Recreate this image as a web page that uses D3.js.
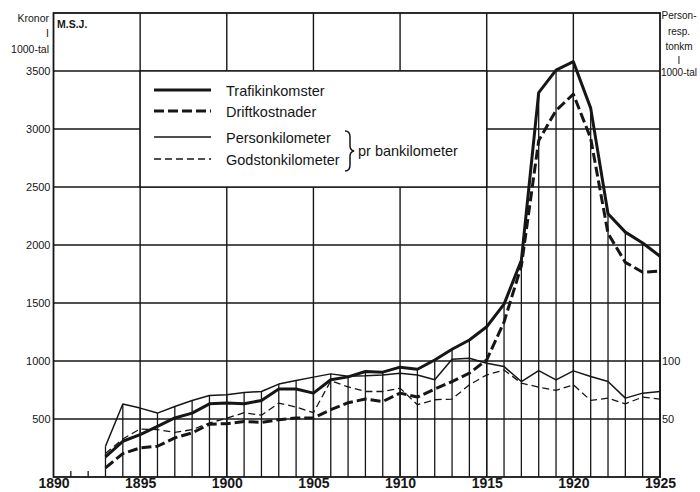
<!DOCTYPE html>
<meta charset="utf-8">
<script src="https://d3js.org/d3.v7.min.js"></script>
<style>
  body { margin: 0; background: #fff; }
  text { font-family: "Liberation Sans", Arial, sans-serif; fill: #161616; }
</style>
<div id="my_dataviz"></div>
<script>

// data (kronor in 1000s, left scale; km in 1000s, right scale)
var years = [1893,1894,1895,1896,1897,1898,1899,1900,1901,1902,1903,1904,1905,1906,1907,1908,1909,
             1910,1911,1912,1913,1914,1915,1916,1917,1918,1919,1920,1921,1922,1923,1924,1925];
var trafikinkomster = [174,308,365,436,509,551,631,637,631,660,758,758,723,838,863,909,904,
                       947,929,1009,1101,1181,1295,1490,1868,3314,3507,3580,3180,2270,2111,2017,1903];
var driftkostnader = [79,202,251,265,337,380,455,460,479,471,494,508,508,580,640,672,651,
                      723,689,758,823,895,1010,1336,1820,2900,3160,3300,2920,2100,1850,1765,1775];
var personkilometer = [26.5,62.9,59.4,55.1,60.8,66.0,70.3,70.9,72.8,73.7,80.1,83.2,86.1,88.9,86.8,87.2,88.0,
                       89.5,88.0,83.8,101.5,102.4,98.1,95.2,82.3,91.7,83.8,91.5,86.6,82.3,68.0,72.3,73.7];
var godstonkilometer = [20.2,32.8,41.4,40.8,38.5,40.8,46.6,50.7,55.4,53.3,63.7,60.3,55.4,82.9,77.7,73.7,73.7,
                        76.6,62.3,66.6,67.2,79.5,88.0,92.3,80.9,77.5,74.6,79.5,66.0,68.0,63.1,68.9,67.2];

var xTicks = [1890,1895,1900,1905,1910,1915,1920,1925];
var smallTickYears = [1891,1892];
var leftTicks = [500,1000,1500,2000,2500,3000,3500];
var rightTicks = [50,100];
var legendNames = ["Trafikinkomster","Driftkostnader","Personkilometer","Godstonkilometer"];

var W = 700, H = 492;
var svg = d3.select("#my_dataviz")
  .append("svg")
    .attr("width", W)
    .attr("height", H);

var x = d3.scaleLinear().domain([1890, 1925]).range([53.5, 660]);
var y = d3.scaleLinear().domain([0, 4000]).range([477, 13]);
var yR = d3.scaleLinear().domain([0, 400]).range([477, 13]);

var ink = "#161616";

// grid
svg.append("g").selectAll("line")
  .data(leftTicks)
  .enter().append("line")
    .attr("x1", x(1890)).attr("x2", x(1925))
    .attr("y1", function(d) { return y(d); }).attr("y2", function(d) { return y(d); })
    .attr("stroke", ink).attr("stroke-width", 1.4);

svg.append("g").selectAll("line")
  .data(xTicks.slice(1, -1))
  .enter().append("line")
    .attr("x1", function(d) { return x(d); }).attr("x2", function(d) { return x(d); })
    .attr("y1", y(0)).attr("y2", y(4000))
    .attr("stroke", ink).attr("stroke-width", 1.4);

// vertical hatching up to the highest curve for each year
svg.append("g").selectAll("line")
  .data(years)
  .enter().append("line")
    .attr("x1", function(d) { return x(d); }).attr("x2", function(d) { return x(d); })
    .attr("y1", y(0))
    .attr("y2", function(d, i) {
      return Math.min(y(trafikinkomster[i]), y(driftkostnader[i]), yR(personkilometer[i]), yR(godstonkilometer[i]));
    })
    .attr("stroke", ink).attr("stroke-width", 1.3);

svg.append("g").selectAll("line")
  .data(smallTickYears)
  .enter().append("line")
    .attr("x1", function(d) { return x(d); }).attr("x2", function(d) { return x(d); })
    .attr("y1", y(0)).attr("y2", y(0) - 6)
    .attr("stroke", ink).attr("stroke-width", 1.3);

// frame
svg.append("rect")
  .attr("x", x(1890)).attr("y", y(4000))
  .attr("width", x(1925) - x(1890)).attr("height", y(0) - y(4000))
  .attr("fill", "none").attr("stroke", ink).attr("stroke-width", 1.8);

// axes
var yAxis = svg.append("g")
  .attr("transform", "translate(" + (x(1890) - 1) + ",0)")
  .call(d3.axisLeft(y).tickValues(leftTicks).tickFormat(d3.format("d")).tickSize(0).tickPadding(2));
yAxis.select(".domain").remove();
yAxis.selectAll("text").style("font-size", "11px").attr("fill", ink);

var yAxisR = svg.append("g")
  .attr("transform", "translate(" + (x(1925) + 1) + ",0)")
  .call(d3.axisRight(yR).tickValues(rightTicks).tickFormat(d3.format("d")).tickSize(0).tickPadding(1));
yAxisR.select(".domain").remove();
yAxisR.selectAll("text").style("font-size", "11px").attr("fill", ink);

var xAxis = svg.append("g")
  .attr("transform", "translate(0," + y(0) + ")")
  .call(d3.axisBottom(x).tickValues(xTicks).tickFormat(d3.format("d")).tickSize(0).tickPadding(1));
xAxis.select(".domain").remove();
xAxis.selectAll("text").style("font-size", "14px").style("font-weight", "bold").attr("fill", ink);

// unit labels
var leftUnit = ["Kronor", "I", "1000-tal"];
svg.append("g").selectAll("text")
  .data(leftUnit)
  .enter().append("text")
    .attr("x", 49).attr("y", function(d, i) { return [22, 37, 53][i]; })
    .attr("text-anchor", "end")
    .style("font-size", "10.5px")
    .text(function(d) { return d; });

var rightUnit = ["Person-", "resp.", "tonkm", "I", "1000-tal"];
svg.append("g").selectAll("text")
  .data(rightUnit)
  .enter().append("text")
    .attr("x", 679).attr("y", function(d, i) { return [19, 35, 50, 64, 76][i]; })
    .attr("text-anchor", "middle")
    .style("font-size", "10px")
    .text(function(d) { return d; });

svg.append("text")
  .attr("x", 57).attr("y", 28)
  .style("font-size", "10.5px").style("font-weight", "bold")
  .text("M.S.J.");

// series
var styles = [
  {data: trafikinkomster, scale: y, width: 3, dash: null},
  {data: driftkostnader, scale: y, width: 3, dash: "10,4"},
  {data: personkilometer, scale: yR, width: 1.5, dash: null},
  {data: godstonkilometer, scale: yR, width: 1.3, dash: "7,4"}
];

styles.forEach(function(s) {
  var line = d3.line()
    .x(function(d, i) { return x(years[i]); })
    .y(function(d) { return s.scale(d); });
  svg.append("path")
    .datum(s.data)
    .attr("d", line)
    .attr("fill", "none")
    .attr("stroke", ink)
    .attr("stroke-width", s.width)
    .attr("stroke-linejoin", "round")
    .attr("stroke-dasharray", s.dash);
});

// legend box
var lg = svg.append("g");
lg.append("rect")
  .attr("x", x(1895)).attr("y", y(3500))
  .attr("width", x(1915) - x(1895)).attr("height", y(2500) - y(3500))
  .attr("fill", "#fff").attr("stroke", ink).attr("stroke-width", 1.4);

var rowY = [90, 111, 137, 159];
legendNames.forEach(function(name, i) {
  lg.append("line")
    .attr("x1", 154).attr("x2", 211)
    .attr("y1", rowY[i]).attr("y2", rowY[i])
    .attr("stroke", ink)
    .attr("stroke-width", styles[i].width)
    .attr("stroke-dasharray", styles[i].dash);
  lg.append("text")
    .attr("x", 226).attr("y", rowY[i] + 6)
    .style("font-size", "14.5px")
    .text(name);
});

// brace for the two per-bankilometer series
lg.append("path")
  .attr("d", "M345,131 Q350,131 350,137 L350,146 Q350,150 354,151 Q350,152 350,156 L350,165 Q350,171 345,171")
  .attr("fill", "none").attr("stroke", ink).attr("stroke-width", 1.5);
lg.append("text")
  .attr("x", 358).attr("y", 156)
  .style("font-size", "14.5px")
  .text("pr bankilometer");

</script>
